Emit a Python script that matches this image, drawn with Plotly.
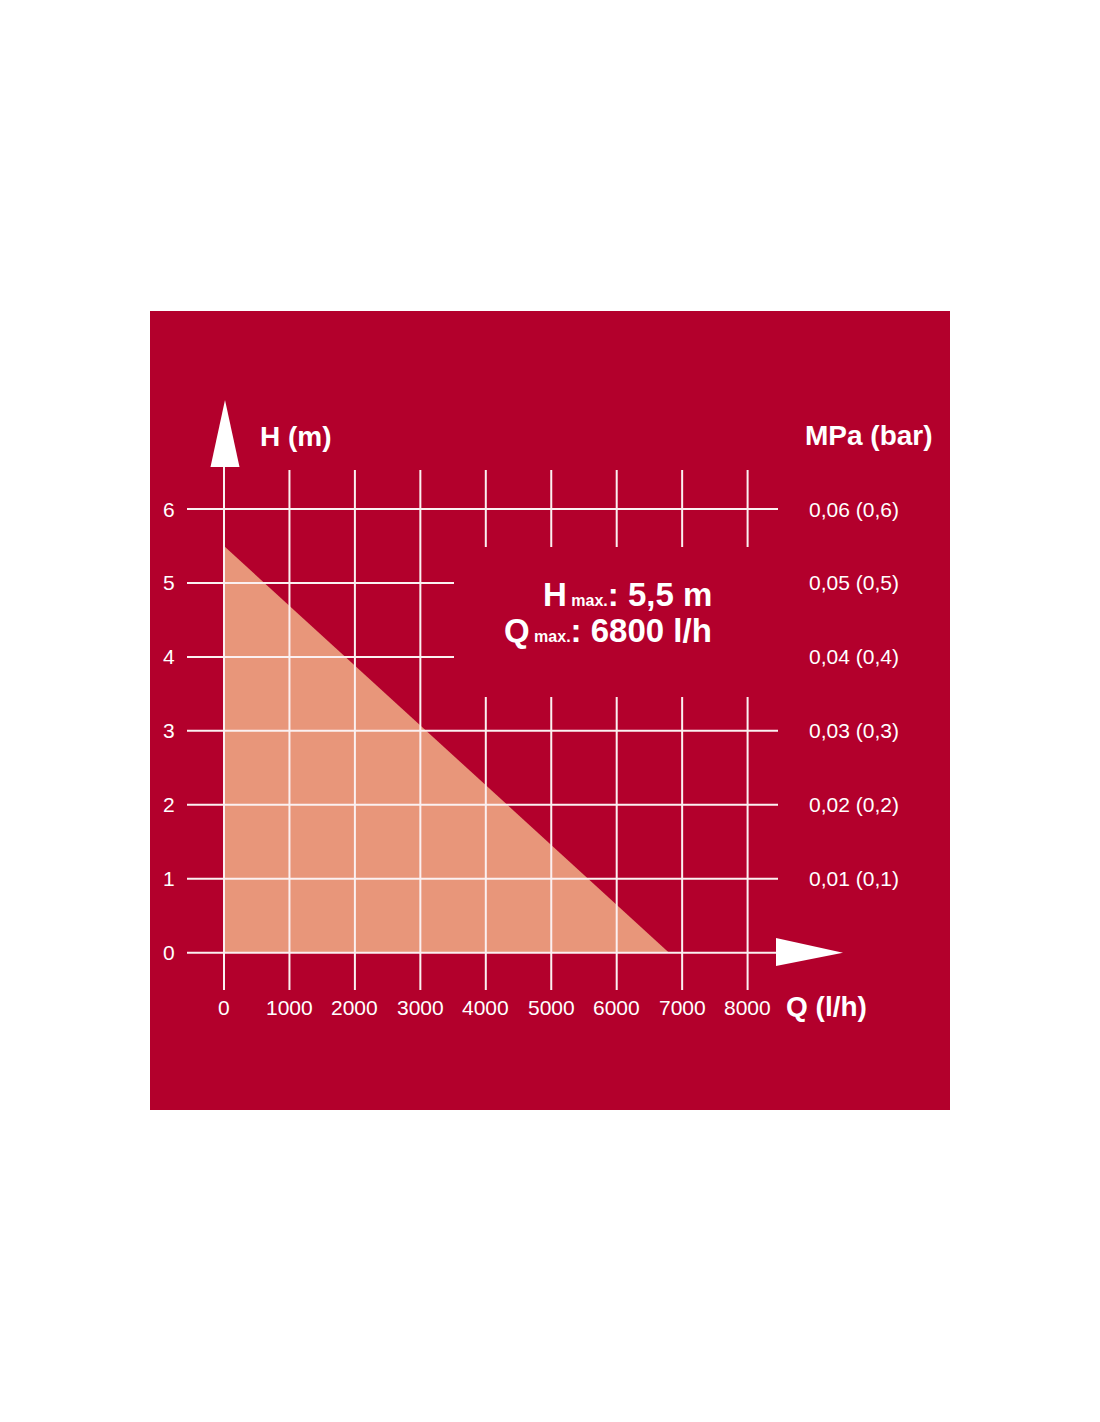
import plotly.graph_objects as go

# ---- data ----
q_points = [0, 6800]          # flow Q (l/h)
h_points = [5.5, 0]           # head H (m)
x_ticks = [0, 1000, 2000, 3000, 4000, 5000, 6000, 7000, 8000]
x_tick_labels = ["0", "1000", "2000", "3000", "4000", "5000", "6000", "7000", "8000"]
y_ticks = [0, 1, 2, 3, 4, 5, 6]
y_tick_labels = ["0", "1", "2", "3", "4", "5", "6"]
right_ticks = [1, 2, 3, 4, 5, 6]
right_labels = ["0,01 (0,1)", "0,02 (0,2)", "0,03 (0,3)", "0,04 (0,4)", "0,05 (0,5)", "0,06 (0,6)"]

# ---- page geometry (pixel -> data mapping) ----
W, H = 1100, 1422
X0PX, XPX = 224.0, 65.45 / 1000.0   # px of x=0, px per unit
Y0PX, YPX = 952.7, 73.95            # px of y=0, px per unit

def dx(px):
    return (px - X0PX) / XPX

def dy(py):
    return (Y0PX - py) / YPX

RED = "#B3002C"
FILL = "#E8967A"
LINE = "#FBF0F1"
FONT = "Liberation Sans, Arial, sans-serif"

fig = go.Figure()

# filled performance triangle
fig.add_trace(go.Scatter(x=q_points, y=h_points, mode="lines", fill="tozeroy",
                         fillcolor=FILL, line=dict(width=0, color=FILL),
                         hoverinfo="skip", showlegend=False))

# grid lines
gx, gy = [], []
v_top, v_bot = dy(470), dy(990)
gap_top, gap_bot = dy(547), dy(697)
for xv in x_ticks:
    if xv == 0:
        gx += [xv, xv, None]; gy += [dy(467), v_bot, None]
    elif xv >= 4000:
        gx += [xv, xv, None, xv, xv, None]
        gy += [v_top, gap_top, None, gap_bot, v_bot, None]
    else:
        gx += [xv, xv, None]; gy += [v_top, v_bot, None]
h_left, h_right, h_short = dx(187), dx(778), dx(454)
for yv in y_ticks:
    if yv == 0:
        gx += [h_left, dx(777), None]
    elif yv in (4, 5):
        gx += [h_left, h_short, None]
    else:
        gx += [h_left, h_right, None]
    gy += [yv, yv, None]
fig.add_trace(go.Scatter(x=gx, y=gy, mode="lines", line=dict(color=LINE, width=2),
                         hoverinfo="skip", showlegend=False))

# arrows
fig.add_trace(go.Scatter(x=[dx(210.5), dx(225), dx(239.5), dx(210.5)],
                         y=[dy(467), dy(400), dy(467), dy(467)],
                         mode="lines", fill="toself", fillcolor="white",
                         line=dict(width=0, color="white"), hoverinfo="skip", showlegend=False))
fig.add_trace(go.Scatter(x=[dx(776), dx(843), dx(776), dx(776)],
                         y=[dy(938), dy(952.7), dy(966), dy(938)],
                         mode="lines", fill="toself", fillcolor="white",
                         line=dict(width=0, color="white"), hoverinfo="skip", showlegend=False))

annotations = []
def txt(x, y, s, size, anchor="center", bold=False):
    if bold:
        s = "<b>" + s + "</b>"
    annotations.append(dict(x=x, y=y, xref="x", yref="y", text=s, showarrow=False,
                            xanchor=anchor, yanchor="middle", borderpad=0,
                            font=dict(family=FONT, size=size, color="white")))

for yv, lab in zip(y_ticks, y_tick_labels):
    txt(dx(169), yv, lab, 21)
for xv, lab in zip(x_ticks, x_tick_labels):
    txt(xv, dy(1007), lab, 21)
for yv, lab in zip(right_ticks, right_labels):
    txt(dx(808), yv, lab, 21, anchor="left")

txt(dx(259), dy(436), "H (m)", 28, anchor="left", bold=True)
txt(dx(804), dy(435), "MPa (bar)", 28, anchor="left", bold=True)
txt(dx(785), dy(1006), "Q (l/h)", 28, anchor="left", bold=True)
txt(dx(713), dy(594), "H<span style='font-size:16px'> max.</span>: 5,5 m", 33, anchor="right", bold=True)
txt(dx(713), dy(630), "Q<span style='font-size:16px'> max.</span>: 6800 l/h", 33, anchor="right", bold=True)

fig.update_layout(
    width=W, height=H,
    margin=dict(l=0, r=0, t=0, b=0),
    paper_bgcolor="white", plot_bgcolor="rgba(0,0,0,0)",
    xaxis=dict(range=[dx(0), dx(W)], visible=False, fixedrange=True),
    yaxis=dict(range=[dy(H), dy(0)], visible=False, fixedrange=True),
    shapes=[dict(type="rect", xref="paper", yref="paper",
                 x0=150 / W, x1=950 / W, y0=1 - 1110 / H, y1=1 - 311 / H,
                 fillcolor=RED, line=dict(width=0), layer="below")],
    annotations=annotations,
    showlegend=False,
)

fig.write_html("out.html", config={"displayModeBar": False},
               post_script="document.body.style.margin='0';")
